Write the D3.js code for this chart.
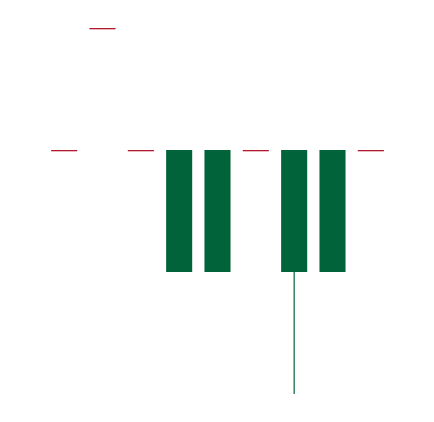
<!DOCTYPE html>
<html>
<head>
<meta charset="utf-8">
<script src="https://cdn.jsdelivr.net/npm/d3@7"></script>
<style>
  html, body { margin: 0; padding: 0; background: #fff; }
</style>
</head>
<body>
<svg id="chart" width="434" height="422"></svg>
<script>
const categories = ["1", "2", "3", "4", "5", "6", "7", "8", "9"];
const openValues  = [2, 3, 2, 1, 1, 2, 1, 1, 2];
const closeValues = [2, 3, 2, 2, 2, 2, 2, 2, 2];
const highValues  = [2, 3, 2, 2, 2, 2, 2, 2, 2];
const lowValues   = [2, 3, 2, 1, 1, 2, 0, 1, 2];

const data = categories.map((c, i) => ({
  c, open: openValues[i], close: closeValues[i], high: highValues[i], low: lowValues[i]
}));

const svg = d3.select("#chart");
const x = d3.scaleBand().domain(categories).range([45, 390]).paddingInner(0.32).paddingOuter(0.16);
const y = d3.scaleLinear().domain([0, 3]).range([394, 28]);

const up = "#006339", down = "#b2182b";
const color = d => d.close > d.open ? up : down;

const g = svg.append("g");
const candle = g.selectAll("g").data(data).join("g");

candle.append("line")
  .attr("x1", d => x(d.c) + x.bandwidth() / 2)
  .attr("x2", d => x(d.c) + x.bandwidth() / 2)
  .attr("y1", d => y(d.high))
  .attr("y2", d => y(d.low))
  .attr("stroke", color)
  .attr("stroke-width", 1.2);

candle.append("rect")
  .attr("x", d => x(d.c))
  .attr("width", x.bandwidth())
  .attr("y", d => d.open === d.close ? Math.round(y(d.open)) : y(Math.max(d.open, d.close)))
  .attr("height", d => Math.max(1.3, Math.abs(y(d.open) - y(d.close))))
  .attr("fill", color);
</script>
</body>
</html>
